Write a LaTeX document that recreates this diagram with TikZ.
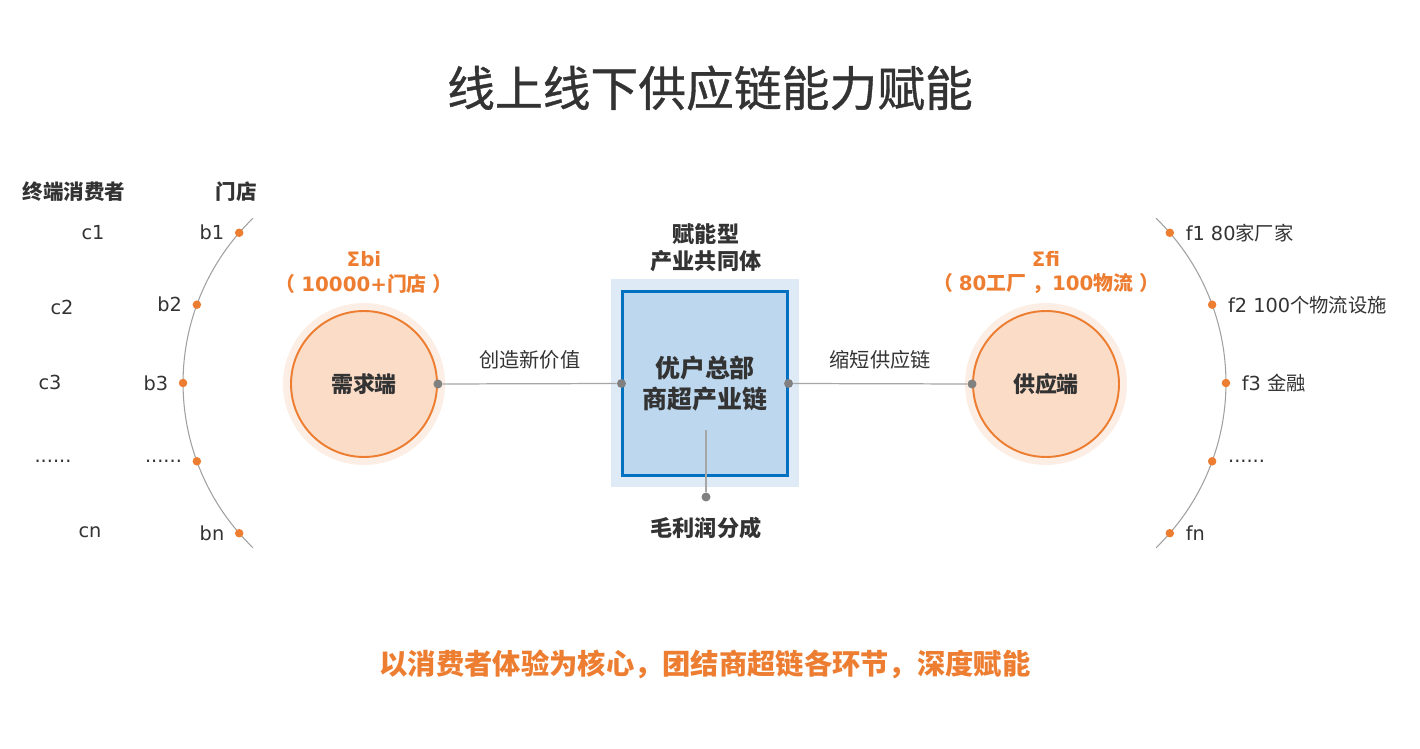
\documentclass[tikz,border=0pt]{standalone}
\usepackage{fontspec}
\setmainfont{DejaVu Sans}
\newfontfamily\cjk{Noto Sans CJK SC}
\newfontfamily\cjkheavy[FakeBold=0.8]{Noto Sans CJK SC}
\usetikzlibrary{calc,positioning}
\definecolor{ink}{HTML}{333333}
\definecolor{accent}{HTML}{ED7D31}
\definecolor{peach}{HTML}{FADCC7}
\definecolor{peachglow}{HTML}{FCEEE4}
\definecolor{boxin}{HTML}{BDD7EE}
\definecolor{boxout}{HTML}{DEEBF7}
\definecolor{boxline}{HTML}{0070C0}
\definecolor{arcgray}{HTML}{A0A0A0}
\definecolor{linkgray}{HTML}{A6A6A6}
\definecolor{dotgray}{HTML}{808080}
\newcommand\sixdots{......}
\newcommand\pgap{\hspace{0.3em}}
\begin{document}
\begin{tikzpicture}[x=0.02cm,y=-0.02cm]
	\tikzset{
	    txt/.style={text=ink,inner sep=0pt,font=\fontsize{11}{13}\selectfont},
	    ctxt/.style={text=ink,inner sep=0pt,font=\fontsize{11.5}{14}\selectfont\cjk},
	    head/.style={text=ink,inner sep=0pt,align=center,font=\fontsize{12.6}{15.3}\selectfont\bfseries\cjk},
	    olbl/.style={text=accent,inner sep=0pt,align=center,font=\fontsize{11.3}{14.2}\selectfont\bfseries},
	    odot/.style={circle,fill=accent,inner sep=0pt,minimum size=0.17cm},
	    gdot/.style={circle,fill=dotgray,inner sep=0pt,minimum size=0.18cm},
	    arcline/.style={draw=arcgray,line width=0.6pt},
	    link/.style={draw=linkgray,line width=0.7pt},
	    hub/.style={circle,draw=accent,line width=1.1pt,fill=peach,minimum size=2.92cm,
	        inner sep=0pt,text=ink,font=\fontsize{12.5}{15}\selectfont\bfseries\cjk},
	    core/.style={draw=boxline,line width=1.2pt,fill=boxin,minimum width=3.3cm,minimum height=3.68cm,
	        align=center,text=ink,font=\fontsize{14.2}{18}\selectfont\bfseries\cjk}
	}
	\fill[white] (0,0) rectangle (1420,749);
	\useasboundingbox (0,0) rectangle (1420,749);
	\node[text=ink,font=\fontsize{27.2}{32}\selectfont\cjkheavy] (title) at (710,88) {线上线下供应链能力赋能};
	% left: consumers and stores
	\node[head,font=\fontsize{11.7}{14}\selectfont\bfseries\cjk] (hcons) at (74,192) {终端消费者};
	\node[head,font=\fontsize{11.7}{14}\selectfont\bfseries\cjk] (hstore) at (236,192) {门店};
	\coordinate (lc) at (412,383);
	\draw[arcline] ($(lc)+(226:4.58cm)$) arc[start angle=226,end angle=134,radius=4.58cm];
	\foreach \a/\n/\t in {139/1/b1,160/2/b2,180/3/b3,200/4/\sixdots,221/5/bn}{
	    \node[odot] (b\n) at ($(lc)+(\a:4.58cm)$) {};
	    \node[txt,left=0.2cm of b\n] (lb\n) {\t};
	}
	\foreach \n/\x/\y/\t in {1/93/233/c1,2/62/307/c2,3/50/382/c3,4/53/461/\sixdots,5/90/532/cn}
	    \node[txt] (c\n) at (\x,\y) {\t};
	% right: suppliers
	\coordinate (rc) at (997,383);
	\draw[arcline] ($(rc)+(-46:4.58cm)$) arc[start angle=-46,end angle=46,radius=4.58cm];
	\foreach \a/\n/\t in {41/1/{f1 80{\cjk 家厂家}},20/2/{f2 100{\cjk 个物流设施}},0/3/{f3 {\cjk 金融}},-20/4/\sixdots,-41/5/fn}{
	    \node[odot] (f\n) at ($(rc)+(\a:4.58cm)$) {};
	    \node[txt,right=0.22cm of f\n] (lf\n) {\t};
	}
	% demand and supply hubs
	\fill[peachglow] (364,384) circle[radius=1.62cm];
	\node[hub] (dem) at (364,384) {需求端};
	\node[olbl] (dsum) at (364,272.5) {Σbi\\{\cjk （}\pgap10000+{\cjk 门店}\pgap{\cjk ）}};
	\fill[peachglow] (1046,384) circle[radius=1.62cm];
	\node[hub] (sup) at (1046,384) {供应端};
	\node[olbl] (ssum) at (1046,272.5) {Σfi\\{\cjk （}\pgap80{\cjk 工厂\pgap，}100{\cjk 物流}\pgap{\cjk ）}};
	% centre box
	\node[fill=boxout,minimum width=3.76cm,minimum height=4.16cm] (coreglow) at (705,383) {};
	\node[core] (core) at (705,383.5) {优户总部\\商超产业链};
	\node[head] (ctitle) at (706,248) {赋能型\\产业共同体};
	\node[gdot] (g1) at (dem.east) {};
	\node[gdot] (g2) at (core.west) {};
	\node[gdot] (g3) at (core.east) {};
	\node[gdot] (g4) at (sup.west) {};
	\draw[link] (g1) -- node[ctxt,above=0.28cm] (lnew) {创造新价值} (g2);
	\draw[link] (g3) -- node[ctxt,above=0.28cm] (lshort) {缩短供应链} (g4);
	\coordinate (cut) at (706,430);
	\node[gdot] (g5) at (706,497) {};
	\draw[link] (cut) -- (g5);
	\node[head] (share) at (706,528) {毛利润分成};
	\node[text=accent,font=\fontsize{16.1}{19}\selectfont\bfseries\cjk] (motto) at (705,664) {以消费者体验为核心，团结商超链各环节，深度赋能};
\end{tikzpicture}
\end{document}
